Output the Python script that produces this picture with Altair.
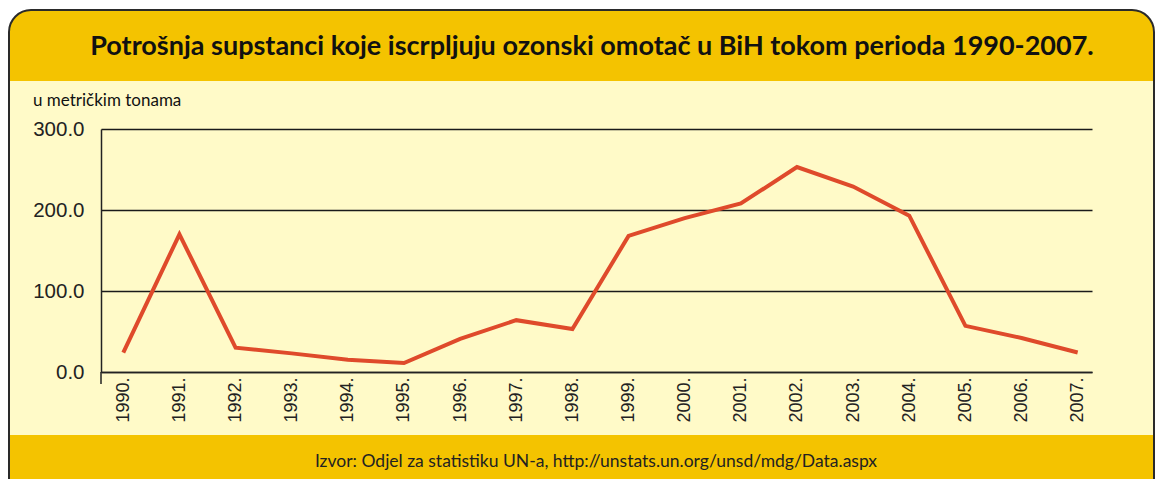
import altair as alt
import pandas as pd

years = [1990, 1991, 1992, 1993, 1994, 1995, 1996, 1997, 1998,
         1999, 2000, 2001, 2002, 2003, 2004, 2005, 2006, 2007]
values = [24, 170, 30, 23, 15, 11, 41, 64, 53,
          168, 190, 208, 253, 229, 193, 57, 42, 24]
y_ticks = [0, 100, 200, 300]
title_text = "Potrošnja supstanci koje iscrpljuju ozonski omotač u BiH tokom perioda 1990-2007."
unit_text = "u metričkim tonama"
source_text = "Izvor: Odjel za statistiku UN-a, http://unstats.un.org/unsd/mdg/Data.aspx"

W, H = 991, 243
GOLD = "#F4C300"
PALE = "#FFFAC8"
LINE = "#DF4A2B"
DARK = "#222222"

df = pd.DataFrame({"year": years, "value": values})
one = alt.Data(values=[{"a": 1}])


def box(x1, x2, y1, y2, **kw):
    return alt.Chart(one).mark_rect(**kw).encode(
        x=alt.value(x1), x2=alt.value(x2), y=alt.value(y1), y2=alt.value(y2)
    )


def label(x, y, txt, **kw):
    return alt.Chart(one).mark_text(**kw).encode(
        x=alt.value(x), y=alt.value(y), text=alt.value(txt)
    )


white_top = box(-95, 1060, -125, -90, fill="white")
white_right = box(1053, 1060, -125, 360, fill="white")
white_left = box(-95, -92, -125, 360, fill="white")
header = box(-92, 1053, -119, -48, fill=GOLD,
             cornerRadiusTopLeft=22, cornerRadiusTopRight=22)
footer = box(-92, 1053, 306, 420, fill=GOLD)
frame = box(-92, 1053, -119, 420, fill="white", fillOpacity=0,
            stroke="#2a2a2a", strokeWidth=2, cornerRadius=22)

title = label(491, -82, title_text, font="Lato", fontWeight="bold",
              fontSize=27, color="#111111", align="center", baseline="middle")
unit = label(-68, -28, unit_text, font="Lato", fontSize=17,
             color="#111111", align="left", baseline="middle")
source = label(495, 333, source_text, font="Lato", fontSize=17.5,
               color="#222222", align="center", baseline="middle")

tick_ext = alt.Chart(one).mark_rule(color=DARK, strokeWidth=1.5).encode(
    x=alt.value(0), y=alt.value(H), y2=alt.value(H + 12)
)

line = alt.Chart(df).mark_line(color=LINE, strokeWidth=4).encode(
    x=alt.X(
        "year:Q",
        scale=alt.Scale(domain=[1989.603, 2007.255], nice=False, zero=False),
        axis=alt.Axis(
            values=years, labelExpr="datum.value + '.'", labelAngle=270,
            title=None, grid=False, ticks=False, labelPadding=5,
            labelFont="Liberation Sans", labelFontSize=18, labelColor=DARK,
            domainColor=DARK, domainWidth=1.5, labelFlush=False,
            labelOverlap=False,
        ),
    ),
    y=alt.Y(
        "value:Q",
        scale=alt.Scale(domain=[0, 300], nice=False),
        axis=alt.Axis(
            values=y_ticks, format=".1f", title=None, grid=True,
            gridColor="#1a1a1a", gridWidth=1.5, ticks=False, labelPadding=17,
            labelFont="Liberation Sans", labelFontSize=20.5, labelColor=DARK,
            domainColor=DARK, domainWidth=1.5,
        ),
    ),
)

chart = alt.layer(
    white_top, white_left, white_right, header, footer, frame,
    title, unit, source, tick_ext, line
).properties(
    width=W, height=H,
    background=PALE,
    padding={"left": 93, "top": 121, "right": 64, "bottom": 107},
    autosize=alt.AutoSizeParams(type="none"),
).configure_view(strokeWidth=0)

chart.save("out.html", embed_options={"renderer": "svg", "actions": False})
